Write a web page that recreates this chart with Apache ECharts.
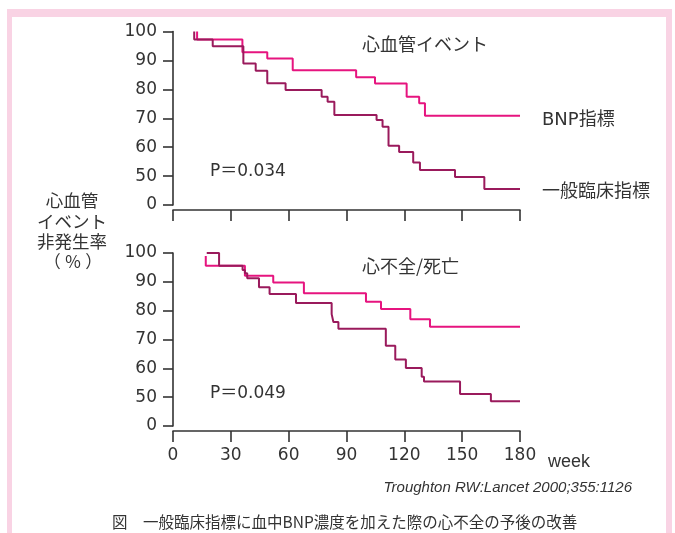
<!DOCTYPE html>
<html><head><meta charset="utf-8">
<script src="https://cdn.jsdelivr.net/npm/echarts@6/dist/echarts.min.js"></script>
<style>html,body{margin:0;padding:0;background:#fff}#c{width:675px;height:533px}</style>
</head><body><div id="c"></div>
<script>
// ---- data ----
const xTicks = [0, 30, 60, 90, 120, 150, 180];
const yTickLabels = ['0', '50', '60', '70', '80', '90', '100']; // broken axis: 0 shown at slot 40

// Top panel: 心血管イベント
const cvBnpWeeks = [12.5, 12.5, 36, 48.9, 62.1, 95, 104.8, 121.2, 127.7, 130.7, 180];
const cvBnpVals  = [100, 97.2, 92.8, 90.7, 86.6, 84.2, 82.0, 77.4, 75.2, 70.9, 70.9];
const cvGenWeeks = [11, 11, 20.6, 36.5, 42.9, 48.9, 58.4, 77.1, 80.2, 83.7, 105.6, 108.7, 111.8, 117.3, 124.6, 128.1, 146.3, 161.5, 180];
const cvGenVals  = [100, 97.2, 94.9, 88.9, 86.4, 82.1, 79.8, 77.4, 75.7, 71.1, 69.4, 67.1, 60.5, 58.3, 54.7, 52.1, 49.7, 45.5, 45.5];

// Bottom panel: 心不全/死亡
const hfBnpWeeks = [17, 17, 37.3, 52, 67.9, 100.1, 107.9, 123.1, 133.3, 180];
const hfBnpVals  = [99, 95.6, 92.1, 89.8, 86.0, 83.1, 80.6, 77.0, 74.4, 74.4];
const hfGenWeeks = [17.5, 23.9, 36.1, 37.3, 38.5, 44.6, 50.1, 63.8, 82.3, 83.2, 85.8, 110.4, 115.3, 120.8, 129, 130.2, 148.9, 164.9, 180];
const hfGenVals  = [100, 95.6, 94.1, 93, 91.2, 88.1, 85.8, 82.7, 78.8, 76.1, 73.7, 67.8, 63.1, 60.1, 57.1, 55.4, 51.1, 48.6, 48.6];

const pValues = ['P＝0.034', 'P＝0.049'];
const panelTitles = ['心血管イベント', '心不全/死亡'];
const seriesNames = ['BNP指標', '一般臨床指標'];

// ---- chart ----
const FONT = '"DejaVu Sans", "Noto Sans CJK JP", sans-serif';
const CJK = '"Noto Sans CJK JP", "Noto Sans", sans-serif';
const LAT = '"Liberation Sans", Arial, sans-serif';
const TXT = '#333333';
const PINK = '#e6147f';
const DARK = '#9a1a5c';
const zip = (a, b) => a.map((v, i) => [v, b[i]]);

function yAxis(gi) {
  return {
    type: 'value', gridIndex: gi, min: 40, max: 100, interval: 10,
    axisLine: { show: true, lineStyle: { color: TXT, width: 1.6 } },
    axisTick: { show: true, length: 10, lineStyle: { color: TXT, width: 1.6 } },
    splitLine: { show: false },
    axisLabel: {
      margin: 16, color: TXT, fontSize: 17, fontFamily: FONT,
      formatter: v => yTickLabels[(v - 40) / 10]
    }
  };
}
function xAxis(gi, labels) {
  return {
    type: 'value', gridIndex: gi, min: 0, max: 180, interval: 30, offset: 5,
    axisLine: { show: true, lineStyle: { color: TXT, width: 1.6 } },
    axisTick: { show: true, length: 11, lineStyle: { color: TXT, width: 1.6 } },
    splitLine: { show: false },
    axisLabel: { show: labels, margin: 16, color: TXT, fontSize: 17, fontFamily: FONT,
      formatter: v => String(v) }
  };
}
function line(xi, weeks, vals, color) {
  return {
    type: 'line', xAxisIndex: xi, yAxisIndex: xi, step: 'end', data: zip(weeks, vals),
    symbol: 'none', lineStyle: { color: color, width: 2 }, silent: true, animation: false
  };
}
function txt(x, y, s, font, extra) {
  return { type: 'text', x: x, y: y, style: Object.assign({
    text: s, fill: TXT, font: font, textVerticalAlign: 'middle'
  }, extra || {}) };
}
const FRAME = '#f9d3e4';
const option = {
  animation: false,
  grid: [
    { left: 173, top: 31.5, width: 347, height: 173.5 },
    { left: 173, top: 253, width: 347, height: 173 }
  ],
  xAxis: [xAxis(0, false), xAxis(1, true)],
  yAxis: [yAxis(0), yAxis(1)],
  series: [
    line(0, cvBnpWeeks, cvBnpVals, PINK),
    line(0, cvGenWeeks, cvGenVals, DARK),
    line(1, hfBnpWeeks, hfBnpVals, PINK),
    line(1, hfGenWeeks, hfGenVals, DARK)
  ],
  graphic: [
    { type: 'rect', shape: { x: 7, y: 9, width: 665, height: 8 }, style: { fill: FRAME } },
    { type: 'rect', shape: { x: 7, y: 9, width: 5, height: 530 }, style: { fill: FRAME } },
    { type: 'rect', shape: { x: 666, y: 9, width: 6, height: 530 }, style: { fill: FRAME } },
    txt(362, 44, panelTitles[0], `18px ${CJK}`),
    txt(362, 266, panelTitles[1], `18px ${CJK}`),
    txt(210, 172, pValues[0], `17px ${FONT}`),
    txt(210, 394, pValues[1], `17px ${FONT}`),
    txt(542, 120, seriesNames[0], `18px ${FONT}`),
    txt(542, 190, seriesNames[1], `18px ${CJK}`),
    txt(72, 200, '心血管', `17.5px ${CJK}`, { textAlign: 'center' }),
    txt(72, 221, 'イベント', `17.5px ${CJK}`, { textAlign: 'center' }),
    txt(72, 241, '非発生率', `17.5px ${CJK}`, { textAlign: 'center' }),
    txt(73, 262, '（ ％ ）', `17px ${CJK}`, { textAlign: 'center' }),
    txt(548, 462, 'week', `18px ${LAT}`),
    txt(632, 488, 'Troughton RW:Lancet 2000;355:1126', `italic 15px ${LAT}`, { textAlign: 'right' }),
    txt(112, 522, '図　一般臨床指標に血中BNP濃度を加えた際の心不全の予後の改善', `15.5px ${CJK}`)
  ]
};
const chart = echarts.init(document.getElementById('c'), null, { renderer: 'canvas' });
chart.setOption(option);
</script></body></html>
